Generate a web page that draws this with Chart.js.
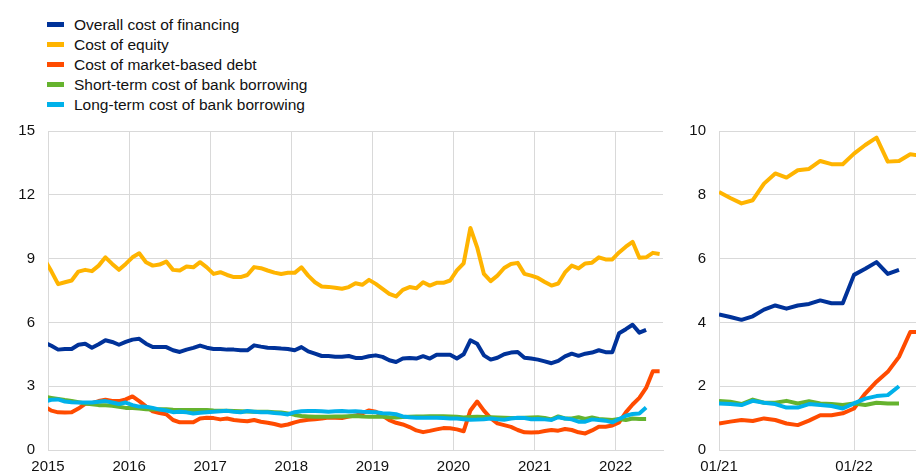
<!DOCTYPE html>
<html>
<head>
<meta charset="utf-8">
<script src="https://cdn.jsdelivr.net/npm/chart.js@4.4.1/dist/chart.umd.min.js"></script>
<style>
    body { margin: 0; width: 916px; height: 475px; overflow: hidden; background: #fff; position: relative; font-family: 'Liberation Sans', Arial, sans-serif; }
    #legend { position: absolute; left: 47px; top: 15px; margin: 0; padding: 0; list-style: none; }
    #legend li { height: 20px; line-height: 20px; font-size: 15.5px; color: #111; white-space: nowrap; }
    #legend span { display: inline-block; width: 17px; height: 5px; margin-right: 10px; vertical-align: middle; position: relative; top: -1px; }
    #leftChart { position: absolute; left: 0; top: 109px; }
    #rightChart { position: absolute; left: 672px; top: 109px; }
</style>
</head>
<body>
<ul id="legend"></ul>
<canvas id="leftChart" width="680" height="366"></canvas>
<canvas id="rightChart" width="252" height="366"></canvas>
<script>
// Monthly data, Dec 2014 .. Jul 2022 (percentages per annum)
const seriesNames = [
    'Overall cost of financing',
    'Cost of equity',
    'Cost of market-based debt',
    'Short-term cost of bank borrowing',
    'Long-term cost of bank borrowing'
];
const seriesColors = ['#003299', '#ffb400', '#ff4b00', '#65b32e', '#00b1ea'];

const overall = [
    5.05, 4.9, 4.72, 4.75, 4.75, 4.95, 5.0, 4.81, 4.97, 5.16, 5.08, 4.95, 5.08,
    5.19, 5.23, 5.0, 4.84, 4.84, 4.84, 4.69, 4.61, 4.72, 4.8, 4.91, 4.81,
    4.75, 4.75, 4.72, 4.72, 4.69, 4.69, 4.92, 4.86, 4.81, 4.8, 4.77, 4.75,
    4.69, 4.84, 4.64, 4.53, 4.42, 4.42, 4.39, 4.38, 4.42, 4.33, 4.33, 4.41,
    4.45, 4.38, 4.22, 4.14, 4.3, 4.33, 4.3, 4.41, 4.3, 4.48, 4.48, 4.48,
    4.3, 4.5, 5.16, 5.0, 4.45, 4.25, 4.34, 4.5, 4.58, 4.61, 4.34, 4.3,
    4.25, 4.17, 4.08, 4.19, 4.4, 4.53, 4.43, 4.53, 4.58, 4.69, 4.6, 4.6,
    5.49, 5.68, 5.89, 5.52, 5.65, null, null
];
const equity = [
    8.95, 8.4, 7.8, 7.89, 7.97, 8.39, 8.47, 8.41, 8.67, 9.06, 8.75, 8.47, 8.75,
    9.06, 9.25, 8.83, 8.67, 8.72, 8.86, 8.47, 8.44, 8.63, 8.59, 8.83, 8.59,
    8.28, 8.36, 8.23, 8.13, 8.13, 8.23, 8.6, 8.55, 8.44, 8.34, 8.28, 8.33,
    8.33, 8.59, 8.2, 7.89, 7.69, 7.67, 7.63, 7.58, 7.66, 7.84, 7.77, 8.0,
    7.81, 7.58, 7.34, 7.22, 7.53, 7.66, 7.61, 7.89, 7.73, 7.86, 7.86, 7.97,
    8.45, 8.78, 10.44, 9.53, 8.28, 7.94, 8.2, 8.56, 8.75, 8.8, 8.28, 8.2,
    8.09, 7.9, 7.73, 7.83, 8.35, 8.67, 8.54, 8.77, 8.81, 9.06, 8.96, 8.96,
    9.29, 9.56, 9.79, 9.04, 9.06, 9.27, 9.22
];
const marketDebt = [
    2.05, 1.85, 1.77, 1.76, 1.77, 1.95, 2.17, 2.2, 2.3, 2.36, 2.3, 2.3, 2.38,
    2.52, 2.3, 2.05, 1.82, 1.74, 1.68, 1.41, 1.3, 1.3, 1.3, 1.48, 1.52,
    1.5, 1.44, 1.48, 1.41, 1.38, 1.35, 1.41, 1.33, 1.28, 1.22, 1.14, 1.2,
    1.3, 1.38, 1.42, 1.45, 1.48, 1.53, 1.52, 1.5, 1.57, 1.62, 1.72, 1.86,
    1.8, 1.62, 1.4, 1.28, 1.2, 1.08, 0.92, 0.84, 0.9, 0.97, 1.03, 1.02,
    0.97, 0.88, 1.86, 2.28, 1.85, 1.5, 1.25, 1.17, 1.09, 0.94, 0.83, 0.82,
    0.83, 0.89, 0.94, 0.91, 0.99, 0.94, 0.83, 0.78, 0.92, 1.09, 1.09, 1.15,
    1.3, 1.77, 2.14, 2.45, 2.92, 3.7, 3.7
];
const shortTermBank = [
    2.5, 2.45, 2.4, 2.35, 2.31, 2.25, 2.19, 2.15, 2.11, 2.1, 2.08, 2.03, 1.98,
    1.97, 1.95, 1.92, 1.91, 1.92, 1.92, 1.89, 1.88, 1.88, 1.88, 1.88, 1.88,
    1.86, 1.85, 1.84, 1.83, 1.82, 1.81, 1.8, 1.8, 1.8, 1.78, 1.76, 1.72,
    1.65, 1.6, 1.58, 1.56, 1.56, 1.56, 1.57, 1.58, 1.59, 1.6, 1.57, 1.56,
    1.56, 1.56, 1.54, 1.53, 1.55, 1.56, 1.57, 1.58, 1.59, 1.59, 1.59, 1.58,
    1.56, 1.53, 1.55, 1.56, 1.55, 1.54, 1.53, 1.52, 1.5, 1.5, 1.52, 1.53,
    1.54, 1.51, 1.44, 1.58, 1.48, 1.48, 1.54, 1.46, 1.53, 1.46, 1.44, 1.41,
    1.46, 1.41, 1.48, 1.46, 1.46, null, null
];
const longTermBank = [
    2.28, 2.36, 2.38, 2.28, 2.25, 2.23, 2.23, 2.23, 2.27, 2.3, 2.23, 2.16, 2.23,
    2.11, 2.04, 2.03, 1.98, 1.9, 1.86, 1.78, 1.8, 1.77, 1.72, 1.75, 1.78,
    1.8, 1.82, 1.84, 1.8, 1.77, 1.83, 1.8, 1.77, 1.77, 1.74, 1.72, 1.67,
    1.78, 1.82, 1.83, 1.83, 1.82, 1.8, 1.82, 1.83, 1.81, 1.82, 1.8, 1.79,
    1.77, 1.73, 1.72, 1.68, 1.58, 1.54, 1.52, 1.52, 1.52, 1.52, 1.5, 1.48,
    1.48, 1.45, 1.42, 1.43, 1.45, 1.48, 1.45, 1.42, 1.48, 1.52, 1.5, 1.45,
    1.46, 1.44, 1.41, 1.54, 1.48, 1.44, 1.33, 1.33, 1.44, 1.41, 1.38, 1.3,
    1.46, 1.61, 1.69, 1.72, 2.0, null, null
];

const allSeries = [overall, equity, marketDebt, shortTermBank, longTermBank];

// Tick labels
const leftTicks = ['2015', '2016', '2017', '2018', '2019', '2020', '2021', '2022'];
const rightTicks = ['01/21', '01/22'];
const zoomStart = 73; // index of Jan 2021 in the arrays

const gridColor = '#d9d9d9';
const fontSpec = { family: "'Liberation Sans', Arial, sans-serif", size: 15 };

// Build a chart.js dataset for each series
const makeDatasets = (toPoints) => allSeries.map((values, i) => ({
    label: seriesNames[i],
    data: toPoints(values),
    borderColor: seriesColors[i],
    backgroundColor: seriesColors[i],
    borderWidth: 4,
    pointRadius: 0,
    tension: 0,
    fill: false,
    spanGaps: false,
    borderJoinStyle: 'round',
    order: allSeries.length - i
}));

const baseOptions = (xOpts, yMax, yStep, yWidth, padRight) => ({
    responsive: false,
    animation: false,
    devicePixelRatio: 1,
    layout: { padding: { top: 12, right: padRight, left: 0, bottom: 0 } },
    plugins: { legend: { display: false }, tooltip: { enabled: false } },
    scales: {
        x: Object.assign({
            type: 'linear',
            grid: { color: gridColor, drawTicks: false },
            border: { color: gridColor },
            afterFit: s => { s.height = 25; }
        }, xOpts),
        y: {
            min: 0,
            max: yMax,
            grid: { color: gridColor, drawTicks: false },
            border: { color: gridColor },
            ticks: { stepSize: yStep, padding: 13, color: '#111', font: fontSpec },
            afterFit: s => { s.width = yWidth; }
        }
    }
});

const xTicks = (labels) => ({
    stepSize: 12,
    includeBounds: false,
    autoSkip: false,
    maxRotation: 0,
    padding: 8,
    color: '#111',
    font: fontSpec,
    callback: v => labels[v / 12]
});

// Left panel: mid-month points since Jan 2015
const leftChart = new Chart(document.getElementById('leftChart'), {
    type: 'line',
    data: { datasets: makeDatasets(values => values.map((v, i) => ({ x: i - 0.5, y: v }))) },
    options: baseOptions({ min: 0, max: 91, ticks: xTicks(leftTicks) }, 15, 3, 48, 17)
});

// Right panel: Jan 2021 onwards
const rightChart = new Chart(document.getElementById('rightChart'), {
    type: 'line',
    data: { datasets: makeDatasets(values => values.slice(zoomStart).map((v, i) => ({ x: i, y: v }))) },
    options: baseOptions({ min: 0, max: 18, ticks: xTicks(rightTicks) }, 10, 2, 47, 2.5)
});

// HTML legend, one entry per line
const legendEl = document.getElementById('legend');
leftChart.data.datasets.forEach(ds => {
    const item = document.createElement('li');
    item.innerHTML = `<span style="background:${ds.borderColor}"></span>${ds.label}`;
    legendEl.appendChild(item);
});
</script>
</body>
</html>
